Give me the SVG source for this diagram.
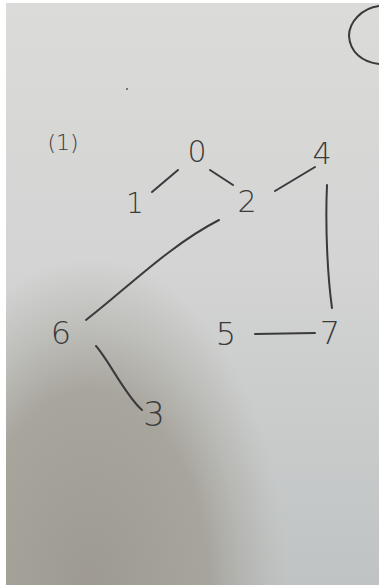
<svg xmlns="http://www.w3.org/2000/svg" width="379" height="588" viewBox="0 0 379 588">
<defs>
<linearGradient id="paper" x1="0" y1="0" x2="0" y2="1">
<stop offset="0" stop-color="#dbdbd9"/>
<stop offset="0.45" stop-color="#d3d4d3"/>
<stop offset="1" stop-color="#bfc3c3"/>
</linearGradient>
<radialGradient id="shadow" gradientUnits="userSpaceOnUse" cx="90" cy="588" r="330" gradientTransform="translate(90 588) scale(0.6 1) translate(-90 -588)">
<stop offset="0" stop-color="#9e9a91" stop-opacity="1"/>
<stop offset="0.6" stop-color="#a4a198" stop-opacity="0.9"/>
<stop offset="0.85" stop-color="#adaba4" stop-opacity="0.35"/>
<stop offset="1" stop-color="#b4b3ad" stop-opacity="0"/>
</radialGradient>
<style>
.t{font-family:"DejaVu Sans","Liberation Sans",sans-serif;font-weight:300;fill:#3a3a3a;text-anchor:middle}
.e{fill:none;stroke:#3a3a3a;stroke-width:2;stroke-linecap:round}
</style>
</defs>
<rect width="379" height="588" fill="#ffffff"/>
<rect x="6" y="3" width="373" height="582" fill="url(#paper)"/>
<rect x="6" y="3" width="373" height="582" fill="url(#shadow)"/>
<path class="e" d="M379,6 C362,8 349,22 349,36 C350,52 362,62 379,64" stroke-width="1.6"/>
<circle cx="127" cy="89" r="1" fill="#555"/>
<text class="t" x="63" y="150" font-size="22">(1)</text>
<g id="edges">
<path class="e" d="M178,170 L152,192"/>
<path class="e" d="M210,170 L233,185"/>
<path class="e" d="M275,191 L315,167"/>
<path class="e" d="M327,185 C325,230 328,280 332,308"/>
<path class="e" d="M219,220 C170,245 125,290 86,320"/>
<path class="e" d="M255,334 L315,333"/>
<path class="e" d="M96,346 C110,362 125,395 142,410"/>
</g>
<g id="n0"><text class="t" x="197" y="162" font-size="30">0</text></g>
<g id="n1"><text class="t" x="135" y="213" font-size="28">1</text></g>
<g id="n2"><text class="t" x="247" y="212" font-size="30">2</text></g>
<g id="n4"><text class="t" x="322" y="164" font-size="30">4</text></g>
<g id="n6"><text class="t" x="61" y="344" font-size="32">6</text></g>
<g id="n5"><text class="t" x="226" y="345" font-size="32">5</text></g>
<g id="n7"><text class="t" x="330" y="344" font-size="32">7</text></g>
<g id="n3"><text class="t" x="154" y="426" font-size="34">3</text></g>
</svg>
